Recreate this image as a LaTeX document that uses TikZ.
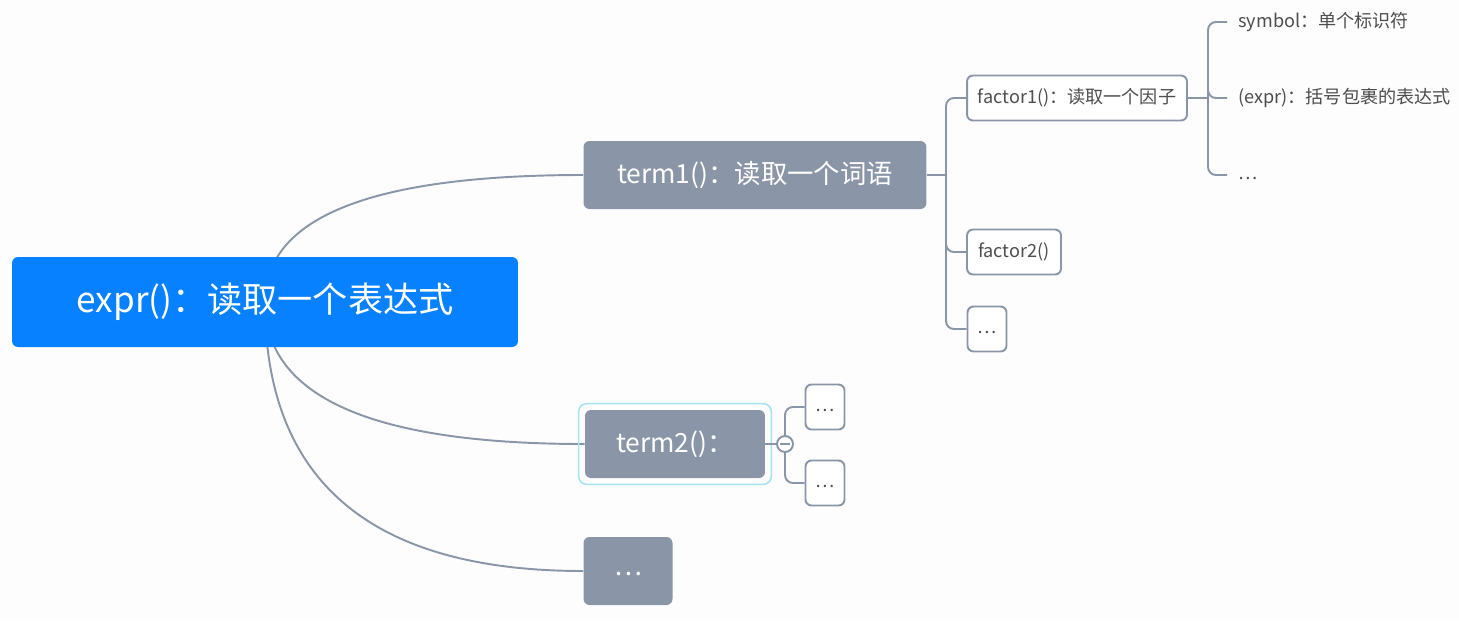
\documentclass[tikz,border=0pt]{standalone}
\usepackage{fontspec}
\setmainfont{Noto Sans CJK SC}
\usetikzlibrary{calc,backgrounds}
\definecolor{rootblue}{HTML}{0781FF}
\definecolor{topicgray}{HTML}{8A96A8}
\definecolor{subtext}{HTML}{4D4D4D}
\definecolor{selcyan}{HTML}{A8E2F6}
\definecolor{paper}{HTML}{FDFDFD}

\begin{document}
\begin{tikzpicture}[x=0.02cm,y=-0.02cm,
        root/.style={fill=rootblue,text=white,rounded corners=0.12cm,inner sep=0pt,
            minimum width=10.12cm,minimum height=1.8cm,font=\fontsize{20}{20}\selectfont},
        topic/.style={fill=topicgray,text=white,rounded corners=0.12cm,inner sep=0pt,
            minimum height=1.36cm,font=\fontsize{15}{15}\selectfont},
        sub/.style={draw=topicgray,line width=1.1pt,fill=white,text=subtext,rounded corners=0.12cm,
            inner sep=0pt,minimum height=0.9cm,font=\fontsize{10.3}{10.3}\selectfont},
        leaf/.style={text=subtext,anchor=west,inner xsep=0.22cm,font=\fontsize{10.3}{10.3}\selectfont},
        dotline/.style={text height=0.72em,text depth=0.2em},
        link/.style={draw=topicgray,line width=1.1pt},
        elbow/.style={link,rounded corners=0.16cm}]
    \useasboundingbox (0,0) rectangle (1459,620);
    % nodes of the map
    \node[root] (expr) at (265,302) {expr()：读取一个表达式};
    \node[topic,minimum width=6.86cm] (term1) at (755,175) {term1()：读取一个词语};
    \node[topic,minimum width=3.6cm] (term2) at (675,444) {term2()：};
    \node[topic,dotline,minimum width=1.78cm] (more) at (628,571) {\ldots};
    \node[sub,minimum width=4.4cm] (factor1) at (1077,98) {factor1()：读取一个因子};
    \node[sub,minimum width=1.88cm] (factor2) at (1014,252) {factor2()};
    \node[sub,dotline,minimum width=0.78cm] (fmore) at (987,329) {\ldots};
    \node[leaf] (symbol) at (1227,22) {symbol：单个标识符};
    \node[leaf] (paren) at (1227,98) {(expr)：括号包裹的表达式};
    \node[leaf,dotline] (lmore) at (1227,175) {\ldots};
    \node[sub,dotline,minimum width=0.78cm] (t2a) at (825,407) {\ldots};
    \node[sub,dotline,minimum width=0.78cm] (t2b) at (825,483) {\ldots};
    % selection frame round term2
    \draw[selcyan,line width=0.9pt,rounded corners=0.16cm]
        ($(term2.south west)+(-6,6)$) rectangle ($(term2.north east)+(6,-6)$);
    \begin{pgfonlayer}{background}
        \fill[paper] (0,0) rectangle (1459,620);
        % curves from the root
        \foreach \t in {term1,term2,more}
            \draw[link] (expr.center)
                .. controls ($(expr.center)!2/3!(expr.center|-\t.west)$)
                and ($(\t.west)!2/3!(expr.center|-\t.west)$) .. (\t.west);
    \end{pgfonlayer}
    % term1 branches
    \coordinate (j1) at (946,175);
    \draw[link] (term1.east) -- (j1);
    \foreach \c in {factor1,factor2,fmore}
        \draw[elbow] (j1) |- (\c.west);
    % factor1 branches
    \coordinate (j2) at (1208,98);
    \draw[link] (factor1.east) -- (j2);
    \foreach \c in {symbol,paren,lmore}
        \draw[elbow] (j2) |- (\c.west);
    % term2 branches
    \node[circle,draw=topicgray,line width=1.1pt,fill=white,minimum size=0.32cm,inner sep=0pt] (fold) at (785,444) {};
    \draw[link] (term2.east) -- (fold.west);
    \draw[link,line width=0.9pt] ($(fold.center)+(-5,0)$) -- ($(fold.center)+(5,0)$);
    \draw[elbow] (fold.north) |- (t2a.west);
    \draw[elbow] (fold.south) |- (t2b.west);
\end{tikzpicture}
\end{document}
